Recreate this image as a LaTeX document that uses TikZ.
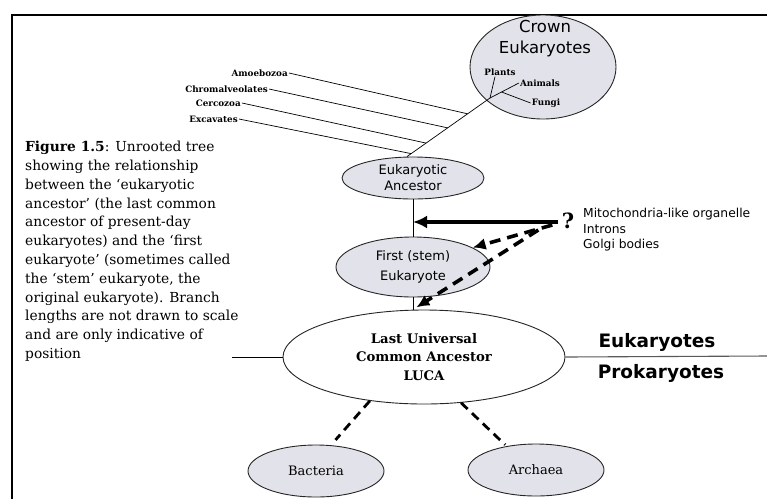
\documentclass[tikz,border=0pt]{standalone}
\usepackage{fontspec}
\setmainfont{DejaVu Serif}
\setsansfont{DejaVu Sans}
\usetikzlibrary{shapes.geometric,arrows.meta,calc}
\definecolor{cellgray}{RGB}{226,226,234}
\newcommand{\fsz}[2]{\fontsize{#1}{#2}\selectfont}

\begin{document}
\begin{tikzpicture}[x=1pt,y=-1pt,
    cell/.style={ellipse,draw=black!85,line width=0.9pt,fill=cellgray,inner sep=0pt},
    twig/.style={line width=0.7pt},
    taxon/.style={font=\fsz{8.8}{10}\bfseries,inner sep=1pt},
    transfer/.style={line width=3.6pt,dash pattern=on 11pt off 7pt,-{Latex[length=13pt,width=12pt]}},
    descent/.style={line width=2.8pt,dash pattern=on 9pt off 6pt},
  ]
    \useasboundingbox (0,0) rectangle (767,499);

    % Frame round the figure
    \draw[line width=2.2pt] (767,15) -- (12,15) -- (12,499);

    % Crown group
    \node[cell,minimum width=146pt,minimum height=104pt] (crown) at (543,67) {};
    \node[font=\sffamily\fsz{16.5}{21},align=center] (crowntxt) at (545,39) {Crown\\Eukaryotes};
    \node[taxon] (plants) at (500,72) {Plants};
    \node[taxon] (animals) at (540,83) {Animals};
    \node[taxon] (fungi) at (546,103) {Fungi};
    \coordinate (cj) at (490,98);
    \coordinate (fj) at ($(cj)!0.4!(animals.west)$);
    \draw[twig] (cj) -- ([xshift=-5pt]plants.south);
    \draw[twig] (cj) -- (animals.west);
    \draw[twig] (fj) -- (fungi.west);

    % Eukaryotic ancestor and the supergroups
    \node[cell,minimum width=142pt,minimum height=42pt,font=\sffamily\fsz{13}{16},align=center] (eukanc) at (413,178) {Eukaryotic\\Ancestor};
    \coordinate (ea) at ([xshift=-6pt]eukanc.north);
    \draw[twig] (cj) -- (ea);

    \node[taxon,anchor=east] (amoeb) at (289,73) {Amoebozoa};
    \node[taxon,anchor=east] (chrom) at (269,89) {Chromalveolates};
    \node[taxon,anchor=east] (cerco) at (242,103) {Cercozoa};
    \node[taxon,anchor=east] (excav) at (239,119) {Excavates};
    \draw[twig] (amoeb.east) -- ($(cj)!0.27!(ea)$);
    \draw[twig] (chrom.east) -- ($(cj)!0.51!(ea)$);
    \draw[twig] (cerco.east) -- ($(cj)!0.77!(ea)$);
    \draw[twig] (excav.east) -- ($(cj)!0.95!(ea)$);

    % Caption
    \node[anchor=north west,align=left,inner sep=0pt,font=\fsz{13.8}{18.8}] (caption) at (25,141) {%
        \textbf{Figure 1.5}: Unrooted tree\\
        showing the relationship\\
        between the `eukaryotic\\
        ancestor' (the last common\\
        ancestor of present-day\\
        eukaryotes) and the `first\\
        eukaryote' (sometimes called\\
        the `stem' eukaryote, the\\
        original eukaryote). Branch\\
        lengths are not drawn to scale\\
        and are only indicative of\\
        position};

    % First eukaryote and LUCA
    \node[cell,minimum width=154pt,minimum height=60pt,font=\sffamily\fsz{13}{20},align=center] (first) at (413,267) {First (stem)\\Eukaryote};
    \node[ellipse,draw=black!85,line width=0.9pt,fill=white,inner sep=0pt,minimum width=282pt,minimum height=94pt,
        font=\bfseries\fsz{13.2}{18.5},align=center] (luca) at (424,357) {Last Universal\\Common Ancestor\\LUCA};
    \draw[twig] (eukanc.south) -- (first.north);
    \draw[twig] (first.south) -- (first.south |- luca.north);

    \coordinate (lstub) at (232,357);
    \coordinate (rstub) at (767,356);
    \draw[twig] (luca.west) -- (lstub);
    \draw[line width=1.1pt,black!65] (luca.east) -- (rstub);
    \node[font=\sffamily\bfseries\fsz{18.5}{20}] (euk) at (657,342) {Eukaryotes};
    \node[font=\sffamily\bfseries\fsz{18.5}{20}] (prok) at (661,373) {Prokaryotes};

    % Organelles brought in
    \node[font=\bfseries\fsz{21}{22}] (qmark) at (568,221) {?};
    \node[anchor=west,align=left,inner sep=0pt,font=\sffamily\fsz{12.3}{15.5}] (organelles) at (583,230) {Mitochondria-like organelle\\Introns\\Golgi bodies};
    \draw[line width=4pt,-{Latex[length=14pt,width=13pt]}] ([yshift=-1pt]qmark.west) -- ([yshift=-1pt]qmark.west -| eukanc.south);
    \draw[transfer] ([shift={(-6,4)}]qmark.west) -- (first.18);
    \draw[transfer,shorten >=4pt] ([shift={(-20,9)}]qmark.west) -- (first.south |- luca.north);

    % Prokaryote domains
    \node[cell,minimum width=136pt,minimum height=52pt,font=\fsz{13}{15}] (bacteria) at (316,471) {Bacteria};
    \node[cell,minimum width=136pt,minimum height=52pt,font=\fsz{13}{15}] (archaea) at (536,470) {Archaea};
    \draw[descent,shorten >=7pt] (luca.-141) -- (bacteria.60);
    \draw[descent,shorten >=2pt] (luca.-51) -- (archaea.141);
\end{tikzpicture}
\end{document}
